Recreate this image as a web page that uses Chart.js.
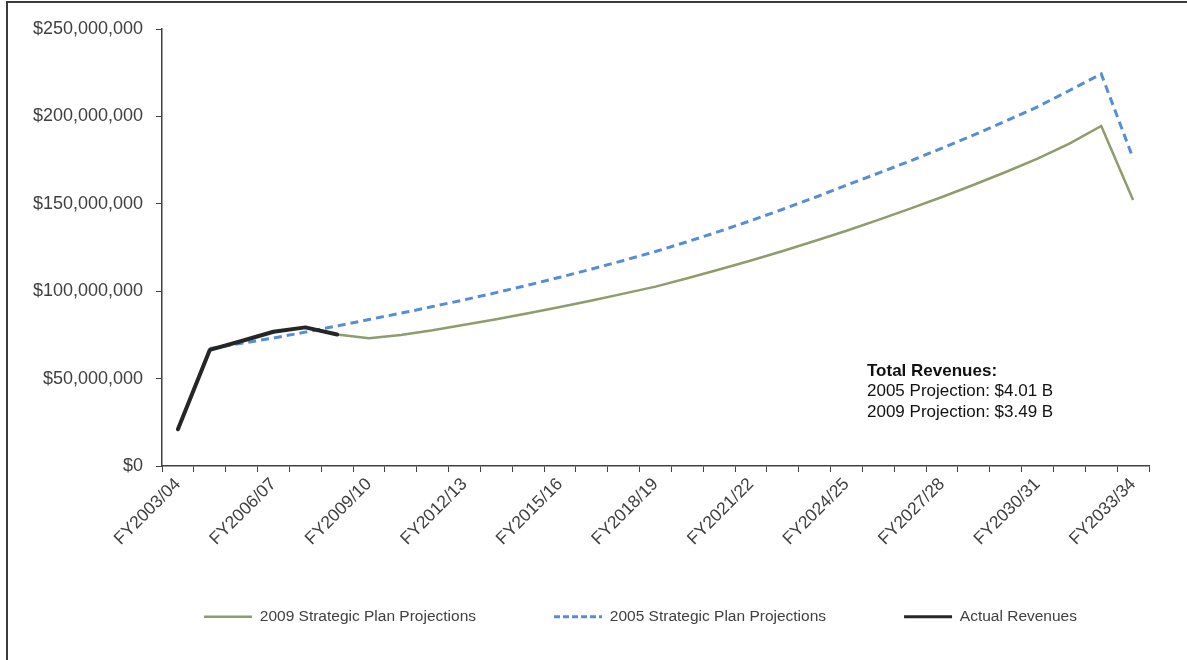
<!DOCTYPE html>
<html>
<head>
<meta charset="utf-8">
<title>Revenue projections</title>
<script src="https://cdn.jsdelivr.net/npm/chart.js@4.4.1/dist/chart.umd.min.js"></script>
<style>
  html, body { margin: 0; padding: 0; background: #fff; }
  #wrap { position: relative; width: 1187px; height: 660px; }
</style>
</head>
<body>
<div id="wrap"><canvas id="revChart"></canvas></div>
<script>
// values in millions of dollars
const fiscalYears = [
  'FY2003/04', 'FY2004/05', 'FY2005/06', 'FY2006/07', 'FY2007/08', 'FY2008/09',
  'FY2009/10', 'FY2010/11', 'FY2011/12', 'FY2012/13', 'FY2013/14', 'FY2014/15',
  'FY2015/16', 'FY2016/17', 'FY2017/18', 'FY2018/19', 'FY2019/20', 'FY2020/21',
  'FY2021/22', 'FY2022/23', 'FY2023/24', 'FY2024/25', 'FY2025/26', 'FY2026/27',
  'FY2027/28', 'FY2028/29', 'FY2029/30', 'FY2030/31', 'FY2031/32', 'FY2032/33',
  'FY2033/34'
];

const plan2009 = [null, null, null, null, null, 75.2, 73.1, 75.0, 77.6, 80.8, 84.0,
  87.4, 91.0, 94.7, 98.6, 102.6, 107.4, 112.4, 117.6, 123.0, 128.7, 134.6, 140.8,
  147.2, 153.9, 160.9, 168.2, 175.8, 184.4, 194.5, 152.2];

const plan2005 = [null, 67.2, 70.2, 73.2, 76.6, 80.1, 83.8, 87.4, 91.2, 95.1, 99.2,
  103.5, 108.0, 112.7, 117.6, 122.7, 128.3, 134.2, 140.4, 146.9, 153.6, 160.7, 167.5,
  174.5, 181.8, 189.4, 197.3, 205.5, 214.8, 224.3, 176.0];

const actualRevenues = [21.0, 66.4, 71.5, 76.8, 79.3, 75.2];

const seriesNames = ['2009 Strategic Plan Projections', '2005 Strategic Plan Projections', 'Actual Revenues'];
const totalNotes = ['Total Revenues:', '2005 Projection: $4.01 B', '2009 Projection: $3.49 B'];
const labelEvery = 3;

const FONT = '"Liberation Sans", Arial, sans-serif';
const AXIS_GREY = '#404040';

// frame, legend nudge and the totals note
const extras = {
  id: 'extras',
  beforeDraw(chart) {
    const ctx = chart.ctx;
    ctx.save();
    ctx.fillStyle = '#fff';
    ctx.fillRect(0, 0, chart.width, chart.height);
    ctx.strokeStyle = '#3a3a3a';
    ctx.lineWidth = 2;
    ctx.beginPath();
    ctx.moveTo(7, chart.height);
    ctx.lineTo(7, 2);
    ctx.lineTo(chart.width, 2);
    ctx.stroke();
    ctx.restore();
  },
  afterLayout(chart) {
    const lg = chart.legend;
    lg.left += 50; lg.right += 50;
    lg.top -= 19; lg.bottom -= 19;
  },
  afterDraw(chart) {
    const ctx = chart.ctx;
    ctx.save();
    ctx.fillStyle = '#111';
    ctx.textBaseline = 'alphabetic';
    ctx.font = 'bold 17px ' + FONT;
    ctx.fillText(totalNotes[0], 867, 376);
    ctx.font = '17px ' + FONT;
    ctx.fillText(totalNotes[1], 867, 396);
    ctx.fillText(totalNotes[2], 867, 417);
    ctx.restore();
  }
};

new Chart(document.getElementById('revChart'), {
  type: 'line',
  data: {
    labels: fiscalYears,
    datasets: [
      { label: seriesNames[0], data: plan2009, borderColor: '#8d9d6b', backgroundColor: '#8d9d6b',
        borderWidth: 2.5, pointRadius: 0, tension: 0, order: 1, pointStyle: 'line' },
      { label: seriesNames[1], data: plan2005, borderColor: '#558ed5', backgroundColor: '#558ed5',
        borderWidth: 3, borderDash: [8, 5], pointRadius: 0, tension: 0, order: 2, pointStyle: 'line' },
      { label: seriesNames[2], data: actualRevenues, borderColor: '#262626', backgroundColor: '#262626',
        borderWidth: 4, pointRadius: 0, tension: 0, order: 0, pointStyle: 'line',
        borderCapStyle: 'round', borderJoinStyle: 'round' }
    ]
  },
  options: {
    responsive: true,
    maintainAspectRatio: false,
    animation: false,
    layout: { padding: { left: 32, right: 38, top: 29, bottom: 6.5 } },
    plugins: {
      tooltip: { enabled: false },
      legend: {
        position: 'bottom',
        labels: {
          usePointStyle: true,
          pointStyle: 'line',
          pointStyleWidth: 48,
          padding: 78,
          color: AXIS_GREY,
          font: { family: FONT, size: 15.5 },
          sort: (a, b) => a.datasetIndex - b.datasetIndex,
          // point-style items don't pick up the dataset dash, so set it here
          generateLabels(chart) {
            const items = Chart.defaults.plugins.legend.labels.generateLabels(chart);
            items.forEach((it) => {
              const ds = chart.data.datasets[it.datasetIndex];
              if (ds.borderDash) it.lineDash = [6, 3];
              it.lineWidth = Math.min(ds.borderWidth, 3);
            });
            return items;
          }
        }
      }
    },
    scales: {
      x: {
        offset: true,
        grid: { offset: true, drawOnChartArea: false, drawTicks: true, tickLength: 6, color: AXIS_GREY },
        border: { color: AXIS_GREY, width: 1.5 },
        ticks: {
          autoSkip: false,
          minRotation: 45,
          maxRotation: 45,
          padding: 2,
          color: AXIS_GREY,
          font: { family: FONT, size: 17.5 },
          callback(value, index) {
            return index % labelEvery === 0 ? this.getLabelForValue(value) : '';
          }
        },
        afterFit(scale) { scale.height = 84; }
      },
      y: {
        min: 0,
        max: 250,
        grid: { drawOnChartArea: false, drawTicks: true, tickLength: 6, color: AXIS_GREY },
        border: { color: AXIS_GREY, width: 1.5 },
        ticks: {
          stepSize: 50,
          padding: 13,
          color: AXIS_GREY,
          font: { family: FONT, size: 18 },
          callback: (v) => '$' + (v * 1e6).toLocaleString('en-US')
        },
        afterFit(scale) { scale.width = 130; }
      }
    }
  },
  plugins: [extras]
});
</script>
</body>
</html>
